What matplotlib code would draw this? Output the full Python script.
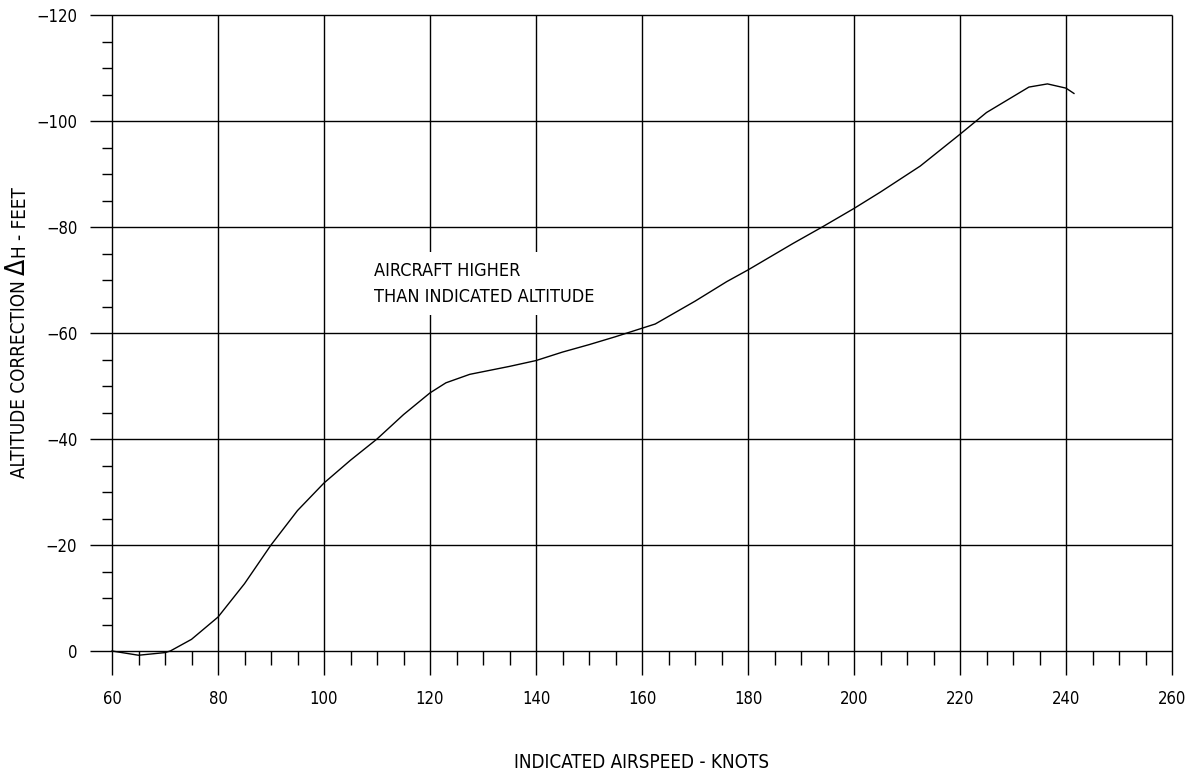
import numpy as np
import matplotlib
matplotlib.use("Agg")
import matplotlib.pyplot as plt

plt.rcParams['font.family'] = ['DejaVu Sans']
plt.rcParams['font.stretch'] = 'condensed'
plt.rcParams['axes.unicode_minus'] = True

# airspeed (knots) vs altitude correction (feet)
knots = [60, 65, 70, 71, 75, 80, 85, 90, 95, 100, 105, 110, 115, 120, 123,
         127.5, 135, 140, 145, 150, 155, 160, 162.5, 170, 176, 180, 188.5,
         194, 200, 205, 212.5, 220, 225, 233, 236.5, 240, 241.5]
dh = [0, 0.8, 0.3, 0, -2.2, -6.4, -12.7, -20, -26.5, -31.7, -36, -40, -44.6,
      -48.7, -50.6, -52.2, -53.7, -54.8, -56.4, -57.8, -59.3, -60.9, -61.7,
      -66, -69.7, -71.9, -76.9, -80, -83.5, -86.6, -91.5, -97.5, -101.6,
      -106.4, -107, -106.2, -105.2]

x_major = np.arange(60, 261, 20)
y_major = np.arange(0, -121, -20)
x_minor = [v for v in range(65, 260, 5) if v % 20 != 0]
y_minor = [v for v in range(-5, -120, -5) if v % 20 != 0]

fig = plt.figure(figsize=(11.95, 7.74), dpi=100)
ax = fig.add_axes([112 / 1195, 123 / 774, 1060 / 1195, 636 / 774])
ax.set_xlim(60, 260)
ax.set_ylim(0, -120)
for s in ax.spines.values():
    s.set_visible(False)

lw = 1.0
# grid: horizontal lines stick out left, vertical lines hang below zero
ax.hlines(y_major, 55.9, 260, color='black', lw=lw, clip_on=False, zorder=1)
ax.vlines(x_major, 4.5, -120, color='black', lw=lw, clip_on=False, zorder=1)
ax.vlines(x_minor, 0, 2.6, color='black', lw=lw, clip_on=False, zorder=1)
ax.hlines(y_minor, 58.1, 60, color='black', lw=lw, clip_on=False, zorder=1)

ax.plot(knots, dh, color='black', lw=1.0, zorder=3, clip_on=False)

ax.set_xticks(x_major)
ax.set_yticks(y_major)
ax.set_xticklabels([str(v) for v in x_major])
ax.set_yticklabels([str(v).replace('-', '\u2212') for v in y_major])
ax.tick_params(axis='x', length=0, pad=28, labelsize=12)
ax.tick_params(axis='y', length=0, pad=25, labelsize=12)

ax.set_xlabel('INDICATED AIRSPEED - KNOTS', fontsize=13.5)
ax.xaxis.set_label_coords(0.5, -(763 - 651) / 636)
ax.xaxis.label.set_va('center')

ax.text(109.4, -69.3, 'AIRCRAFT HIGHER\nTHAN INDICATED ALTITUDE',
        fontsize=13, ha='left', va='center', linespacing=1.55, zorder=2,
        bbox=dict(fc='white', ec='none', pad=7))

# y label with an enlarged delta
t1 = fig.text(20 / 1195, (774 - 478) / 774, 'ALTITUDE CORRECTION',
              rotation=90, ha='center', va='bottom', fontsize=13.5)
t2 = ax.annotate('\u0394', xy=(1, 1), xycoords=t1, xytext=(1, 4),
                 textcoords='offset points', rotation=90, ha='right',
                 va='bottom', fontsize=19, annotation_clip=False)
ax.annotate('H - FEET', xy=(1, 1), xycoords=t2, xytext=(-1, 0),
            textcoords='offset points', rotation=90, ha='right',
            va='bottom', fontsize=13.5, annotation_clip=False)

fig.savefig('out.png', dpi=100)
